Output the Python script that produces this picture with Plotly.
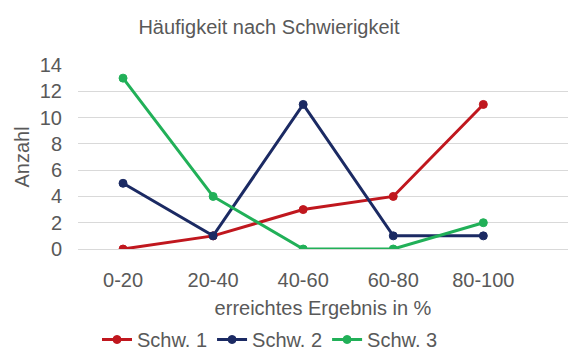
import plotly.graph_objs as go

categories = ['0-20', '20-40', '40-60', '60-80', '80-100']
schw1 = [0, 1, 3, 4, 11]
schw2 = [5, 1, 11, 1, 1]
schw3 = [13, 4, 0, 0, 2]

series = [
    ('Schw. 1', schw1, '#C0171E'),
    ('Schw. 2', schw2, '#1B2A63'),
    ('Schw. 3', schw3, '#21B058'),
]

W, H = 568, 359
L, T, B = 78, 65, 104
plot_w, plot_h = W - L, H - T - B
font = 'Liberation Sans, Arial, sans-serif'
grey = '#595959'

fig = go.Figure()
for name, vals, color in series:
    fig.add_trace(go.Scatter(
        x=categories,
        y=vals,
        mode='lines+markers',
        name=name,
        line=dict(color=color, width=3),
        marker=dict(size=8, color=color, line=dict(color=color, width=1)),
    ))

fig.update_layout(
    width=W, height=H,
    margin=dict(l=L, r=0, t=T, b=B),
    paper_bgcolor='white',
    plot_bgcolor='white',
    font=dict(family=font, color=grey),
    title=dict(text='Häufigkeit nach Schwierigkeit', x=269 / W, xanchor='center',
               y=1 - 27 / H, yanchor='middle', font=dict(size=20, color=grey)),
    xaxis=dict(
        type='category',
        range=[-0.5, 4.94],
        automargin=False,
        showgrid=False,
        showline=False,
        ticks='',
        tickfont=dict(size=20, color=grey),
        ticklabelstandoff=17,
        title=dict(text='erreichtes Ergebnis in %', font=dict(size=20, color=grey), standoff=10),
    ),
    yaxis=dict(
        range=[0, 14],
        dtick=2,
        automargin=False,
        showgrid=True,
        gridcolor='#D9D9D9',
        gridwidth=1,
        zeroline=True,
        zerolinecolor='#D9D9D9',
        zerolinewidth=1,
        tickfont=dict(size=20, color=grey),
        ticklabelstandoff=15,
        title=dict(text='Anzahl', font=dict(size=20, color=grey), standoff=4),
    ),
    legend=dict(
        orientation='h',
        x=(270 - L) / plot_w, xanchor='center',
        y=-(349 - (T + plot_h)) / plot_h, yanchor='middle',
        font=dict(size=20, color=grey),
        itemwidth=30,
        tracegroupgap=0,
    ),
    showlegend=True,
)

# page should be exactly the figure: no body margin, no scrollbars
page_css = (
    "document.documentElement.style.margin='0';"
    "document.documentElement.style.overflow='hidden';"
    "document.body.style.margin='0';"
    "document.body.style.overflow='hidden';"
)
fig.write_html('out.html', config={'displayModeBar': False}, post_script=page_css)
